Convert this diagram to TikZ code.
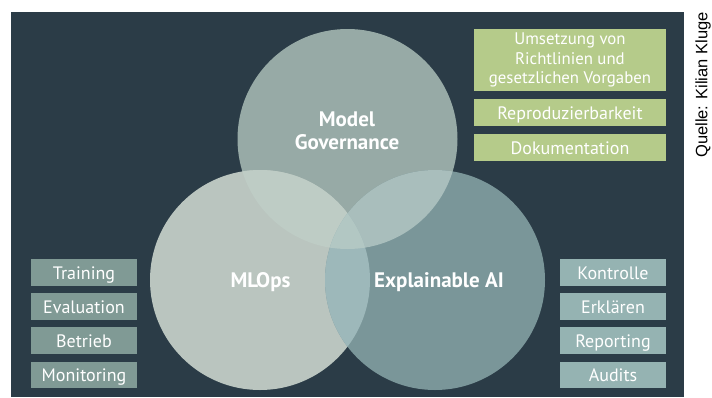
\documentclass[tikz,border=0pt]{standalone}
\usepackage{fontspec}
\setmainfont{PT Sans}
\newfontfamily\srcfont{Liberation Sans}
\definecolor{bgdark}{HTML}{2B3C47}
\definecolor{ctop}{HTML}{97AAA6}
\definecolor{cleft}{HTML}{BAC5BF}
\definecolor{cright}{HTML}{7A9699}
\definecolor{ctl}{HTML}{BECCC5}
\definecolor{ctr}{HTML}{A9BEBC}
\definecolor{clr}{HTML}{9DB8BA}
\definecolor{cmid}{HTML}{B2C7C3}
\definecolor{boxgreen}{HTML}{B5CB8A}
\definecolor{boxleft}{HTML}{809A95}
\definecolor{boxright}{HTML}{95B3B2}
\begin{document}
\begin{tikzpicture}[x=1pt,y=-1pt,
  tag/.style={fill=#1, text=white, minimum width=106pt, minimum height=26.7pt, inner sep=0pt, text height=17pt, text depth=3.1pt, font=\fontsize{18}{20}\selectfont},
  gtag/.style={fill=boxgreen, text=white, minimum width=191.7pt, inner sep=0pt, align=center, font=\fontsize{18}{19.2}\selectfont},
  lab/.style={text=white, font=\bfseries\fontsize{21}{23}\selectfont, align=center}]
\useasboundingbox (0,0) rectangle (712,397);
\fill[bgdark] (11,12) rectangle (684,397);
\coordinate (T) at (347.5,139);
\coordinate (L) at (260,280);
\coordinate (R) at (435,280);
\def\rr{110pt}
\fill[ctop] (T) circle (\rr);
\fill[cleft] (L) circle (\rr);
\fill[cright] (R) circle (\rr);
\begin{scope}
  \clip (T) circle (\rr);
  \fill[ctl] (L) circle (\rr);
  \fill[ctr] (R) circle (\rr);
\end{scope}
\begin{scope}
  \clip (L) circle (\rr);
  \fill[clr] (R) circle (\rr);
  \clip (T) circle (\rr);
  \fill[cmid] (R) circle (\rr);
\end{scope}
\node[lab] (mg) at (347,131) {Model\\Governance};
\node[lab] (ml) at (260.5,282) {MLOps};
\node[lab] (xai) at (439,282) {Explainable AI};
% green boxes
\node[gtag, minimum height=61.7pt, font=\fontsize{16.8}{19.2}\selectfont] (g1) at (570,59.9) {Umsetzung von\\Richtlinien und\\gesetzlichen Vorgaben};
\node[gtag, minimum height=26.7pt, text height=17pt, text depth=3.1pt] (g2) at (570,112.4) {Reproduzierbarkeit};
\node[gtag, minimum height=26.7pt, text height=17pt, text depth=3.1pt] (g3) at (570,147.4) {Dokumentation};
% left boxes
\node[tag=boxleft] (l1) at (84,272.4) {Training};
\node[tag=boxleft] (l2) at (84,306.4) {Evaluation};
\node[tag=boxleft] (l3) at (84,340.4) {Betrieb};
\node[tag=boxleft] (l4) at (84,375) {Monitoring};
% right boxes
\node[tag=boxright] (r1) at (613,272.4) {Kontrolle};
\node[tag=boxright] (r2) at (613,306.4) {Erklären};
\node[tag=boxright] (r3) at (613,340.4) {Reporting};
\node[tag=boxright] (r4) at (613,375) {Audits};
\node[rotate=90, text=black, font=\srcfont\fontsize{16.5}{19}\selectfont, inner sep=0pt] (src) at (703,85) {Quelle: Kilian Kluge};
\end{tikzpicture}
\end{document}
